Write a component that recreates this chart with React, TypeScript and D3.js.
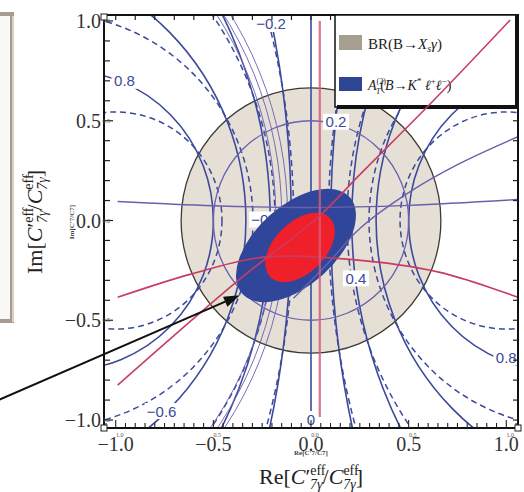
import React from 'react';
import * as d3 from 'd3';

// plot frame in page pixels
const W = 524;
const H = 492;
const frame = { left: 104, right: 518, top: 15, bottom: 428 };

// data ranges covered by the frame
const xDomain = [-1.06, 1.06];
const yDomain = [-1.04, 1.03];

const tickValues = [-1, -0.5, 0, 0.5, 1];
const tickLabels = ['−1.0', '−0.5', '0.0', '0.5', '1.0'];
const tinyTickLabels = ['1.0', '0.5', '0.0', '0.5', '1.0'];

// A_T^(2) contour levels (solid = one q² setting, dashed = the other)
const solidLevels = [-0.8, -0.6, -0.4, -0.2, 0, 0.2, 0.4, 0.6, 0.8];
const dashedLevels = [-0.8, -0.6, -0.4, -0.2, 0.2, 0.4, 0.6, 0.8];
const dashedNorm = 0.8;
const dashedShift = 0.704;

const contourLabels = [
  { t: '0.8', x: -0.955, y: 0.7 },
  { t: '−0.2', x: -0.205, y: 0.985 },
  { t: '0.2', x: 0.128, y: 0.495 },
  { t: '−0.4', x: -0.23, y: 0.005 },
  { t: '0.4', x: 0.23, y: -0.29 },
  { t: '−0.6', x: -0.765, y: -0.955 },
  { t: '0', x: 0, y: -0.995 },
  { t: '0.8', x: 1.0, y: -0.685 },
];

// BR(B -> Xs gamma) allowed disk
const brDisk = { cx: 0, cy: 0, r: 0.665 };
// A_T^(2) allowed region and the combined (red) region
const atRegion = { cx: -0.077, cy: -0.125, a: 0.37, b: 0.2, angle: 42 };
const coreRegion = { cx: -0.056, cy: -0.135, a: 0.215, b: 0.128, angle: 45 };

// purple (second overlay) curves
const purpleFlat: [number, number][] = [[-0.99, 0.095], [-0.5, 0.074], [0, 0.065], [0.5, 0.076], [1.06, 0.105]];
const purpleSlant: [number, number][] = [[-0.09, -0.39], [0.1, -0.2], [0.25, -0.04], [0.5, 0.14], [0.75, 0.28], [1.06, 0.42]];
const purpleRing = 0.5;
const purpleArcCenter = [-2.02, 0.02];
const purpleArcRadii = [1.84, 1.87, 1.9];

// red constraint lines
const redVertical: [number, number][] = [[0.045, 1.0], [0.045, -0.985]];
const redDiagonal: [number, number][] = [[-0.99, -0.825], [-0.36, -0.29], [0.04, 0.02], [0.25, 0.23], [0.626, 0.6], [1.02, 1.005]];
const redArch: [number, number][] = [[-0.99, -0.385], [-0.62, -0.27], [-0.25, -0.185], [0.2, -0.195], [0.66, -0.26], [1.06, -0.385]];

// annotation arrow (data coords)
const arrowFrom = [-1.6, -0.9];
const arrowTo = [-0.364, -0.375];

const BLUE = '#3b4a9c';
const PURPLE = '#6a5fae';
const RED = '#c93c62';
const SERIF = '"Liberation Serif", "DejaVu Serif", serif';
const SANS = '"Liberation Sans", Arial, sans-serif';

const xs = d3.scaleLinear().domain(xDomain).range([frame.left, frame.right]);
const ys = d3.scaleLinear().domain(yDomain).range([frame.bottom, frame.top]);
const line = d3
  .line<[number, number]>()
  .x((d) => xs(d[0]))
  .y((d) => ys(d[1]))
  .curve(d3.curveCatmullRom);

const circle = (cx: number, cy: number, r: number, props: any, key: any) => (
  <ellipse
    key={key}
    cx={xs(cx)}
    cy={ys(cy)}
    rx={Math.abs(xs(r) - xs(0))}
    ry={Math.abs(ys(0) - ys(r))}
    fill="none"
    {...props}
  />
);

const levelCircle = (c: number, norm: number, shift: number) => {
  const a = norm / c;
  return { cx: a, r: Math.sqrt(a * a - shift) };
};

const Label = ({ main, sub, size, italicFirst }: any) => null;

const AxisTitle = ({ prefix }: { prefix: string }) => (
  <>
    {prefix}[
    <tspan fontStyle="italic">C</tspan>′
    <tspan fontSize={14} dy={-9}>eff</tspan>
    <tspan fontSize={14} dx={-15.5} dy={14} fontStyle="italic">7γ</tspan>
    <tspan dy={-5}>/</tspan>
    <tspan fontStyle="italic">C</tspan>
    <tspan fontSize={14} dy={-9}>eff</tspan>
    <tspan fontSize={14} dx={-15.5} dy={14} fontStyle="italic">7γ</tspan>
    <tspan dy={-5}>]</tspan>
  </>
);

export default function App() {
  const yTicks = d3.range(-10, 11).map((i) => i / 10);
  const xTopTicks = d3.range(-10, 11).map((i) => i / 10);
  const xBottomTicks = d3.range(-21, 22).map((i) => i / 20);

  const ellipse = (e: any, fill: string) => (
    <ellipse
      cx={xs(e.cx)}
      cy={ys(e.cy)}
      rx={xs(e.a) - xs(0)}
      ry={ys(0) - ys(e.b)}
      fill={fill}
      transform={`rotate(${-e.angle} ${xs(e.cx)} ${ys(e.cy)})`}
    />
  );

  const [ax, ay] = [xs(arrowFrom[0]), ys(arrowFrom[1])];
  const [bx, by] = [xs(arrowTo[0]), ys(arrowTo[1])];
  const ang = Math.atan2(by - ay, bx - ax);
  const headLen = 16;
  const headW = 5.5;
  const hx = bx - headLen * Math.cos(ang);
  const hy = by - headLen * Math.sin(ang);
  const head = [
    [bx, by],
    [hx - headW * Math.sin(ang), hy + headW * Math.cos(ang)],
    [hx + headW * Math.sin(ang), hy - headW * Math.cos(ang)],
  ];

  return (
    <svg
      width={W}
      height={H}
      style={{ position: 'fixed', left: 0, top: 0, background: '#fff' }}
      fontFamily={SERIF}
    >
      <defs>
        <clipPath id="plot">
          <rect x={frame.left} y={frame.top} width={frame.right - frame.left} height={frame.bottom - frame.top} />
        </clipPath>
      </defs>

      {/* remnant of neighbouring panel */}
      <rect x={-12} y={14} width={24} height={307} fill="#faf8f5" stroke="#a69b8d" strokeWidth={4} />
      <line x1={13} y1={16} x2={13} y2={322} stroke="#d8d0c6" strokeWidth={2} />

      <g clipPath="url(#plot)">
        {circle(brDisk.cx, brDisk.cy, brDisk.r, { fill: '#e5dfd5', stroke: '#3d3a33', strokeWidth: 1.3 }, 'disk')}

        {solidLevels.map((c, i) =>
          c === 0 ? (
            <line key={'s' + i} x1={xs(0)} x2={xs(0)} y1={frame.top} y2={frame.bottom} stroke={BLUE} strokeWidth={1.6} />
          ) : (
            (() => {
              const k = levelCircle(c, 1, 1);
              return circle(k.cx, 0, k.r, { stroke: BLUE, strokeWidth: 1.6 }, 's' + i);
            })()
          )
        )}
        {dashedLevels.map((c, i) => {
          const k = levelCircle(c, dashedNorm, dashedShift);
          return circle(k.cx, 0, k.r, { stroke: BLUE, strokeWidth: 1.5, strokeDasharray: '6 4' }, 'd' + i);
        })}

        {purpleArcRadii.map((r, i) =>
          circle(purpleArcCenter[0], purpleArcCenter[1], r, { stroke: PURPLE, strokeWidth: 1, opacity: 0.9 }, 'pa' + i)
        )}
        {circle(0, 0, purpleRing, { stroke: PURPLE, strokeWidth: 1.3 }, 'ring')}

        {contourLabels.map((l, i) => {
          const w = l.t.length * 8 + 2;
          return (
            <g key={'l' + i}>
              <rect x={xs(l.x) - w / 2} y={ys(l.y) - 8} width={w} height={16} fill="#fff" />
              <text x={xs(l.x)} y={ys(l.y) + 5.5} textAnchor="middle" fontSize={15} fontFamily={SANS} fill={BLUE}>
                {l.t}
              </text>
            </g>
          );
        })}

        {ellipse(atRegion, '#30469a')}
        {ellipse(coreRegion, '#f0202a')}

        <path d={line(purpleFlat) || ''} fill="none" stroke={PURPLE} strokeWidth={1.4} />
        <path d={line(purpleSlant) || ''} fill="none" stroke={PURPLE} strokeWidth={1.4} />

        <path d={line(redArch) || ''} fill="none" stroke={RED} strokeWidth={1.6} />
        <path d={line(redVertical) || ''} fill="none" stroke="#d25d7a" strokeWidth={2.2} opacity={0.85} />
      </g>

      {/* frame */}
      <rect
        x={frame.left}
        y={frame.top}
        width={frame.right - frame.left}
        height={frame.bottom - frame.top}
        fill="none"
        stroke="#111"
        strokeWidth={2}
      />
      {yTicks.map((v, i) => {
        const major = Math.abs(v * 2 - Math.round(v * 2)) < 1e-6;
        const len = major ? 9 : 6;
        return (
          <g key={'yt' + i} stroke="#222" strokeWidth={1.2}>
            <line x1={frame.left} x2={frame.left + len} y1={ys(v)} y2={ys(v)} />
            <line x1={frame.right} x2={frame.right - 5} y1={ys(v)} y2={ys(v)} />
          </g>
        );
      })}
      {xTopTicks.map((v, i) => (
        <line key={'xt' + i} x1={xs(v)} x2={xs(v)} y1={frame.top} y2={frame.top + 5} stroke="#222" strokeWidth={1.2} />
      ))}
      {xBottomTicks.map((v, i) => {
        const major = Math.abs(v * 2 - Math.round(v * 2)) < 1e-6;
        return (
          <line
            key={'xb' + i}
            x1={xs(v)}
            x2={xs(v)}
            y1={frame.bottom}
            y2={frame.bottom - (major ? 8 : 5)}
            stroke="#222"
            strokeWidth={1.1}
          />
        );
      })}
      {[
        [frame.left, frame.bottom],
        [frame.right, frame.bottom],
        [frame.left, frame.top + 2],
      ].map(([x, y], i) => (
        <rect key={'sq' + i} x={x - 3} y={y - 3} width={6} height={6} fill="#fff" stroke="#222" strokeWidth={1} />
      ))}

      {tickValues.map((v, i) => (
        <g key={'tl' + i}>
          <text x={101} y={ys(v) + 7} textAnchor="end" fontSize={20} fill="#333">
            {tickLabels[i]}
          </text>
          <text x={110} y={ys(v) + 2} textAnchor="end" fontSize={6} fill="#555">
            {tinyTickLabels[i]}
          </text>
          <text x={xs(v)} y={451} textAnchor="middle" fontSize={20} fill="#333">
            {tickLabels[i]}
          </text>
          <text x={xs(v) + 4} y={437} textAnchor="middle" fontSize={6} fill="#555">
            {tinyTickLabels[i]}
          </text>
        </g>
      ))}

      {/* legend */}
      <rect x={335} y={frame.top} width={181} height={92} fill="#fff" stroke="#111" strokeWidth={1.5} />
      <path d={`M337,107 H517 V16`} fill="none" stroke="#111" strokeWidth={4} />
      <rect x={339} y={35} width={23} height={15} fill="#a79e92" />
      <rect x={339} y={77} width={23} height={14} fill="#2d4592" />
      <text x={368} y={49} fontSize={15} fill="#222">
        BR(B→<tspan fontStyle="italic">X</tspan>
        <tspan fontSize={10} dy={3} fontStyle="italic">s</tspan>
        <tspan dy={-3} fontStyle="italic">γ</tspan>)
      </text>
      <text x={368} y={90} fontSize={14} fill="#222">
        <tspan fontStyle="italic">A</tspan>
        <tspan fontSize={8} dy={-6}>(2)</tspan>
        <tspan fontSize={8} dx={-10} dy={10} fontStyle="italic">T</tspan>
        <tspan dy={-4}>(</tspan>
        <tspan fontStyle="italic">B</tspan>→<tspan fontStyle="italic">K</tspan>
        <tspan fontSize={9} dy={-6}>*</tspan>
        <tspan dy={6} fontStyle="italic"> ℓ</tspan>
        <tspan fontSize={9} dy={-6}>+</tspan>
        <tspan dy={6} fontStyle="italic">ℓ</tspan>
        <tspan fontSize={9} dy={-6}>−</tspan>
        <tspan dy={6}>)</tspan>
      </text>

      <g clipPath="url(#plot)">
        <path d={line(redDiagonal) || ''} fill="none" stroke={RED} strokeWidth={1.6} />
      </g>

      {/* arrow */}
      <line x1={ax} y1={ay} x2={hx} y2={hy} stroke="#111" strokeWidth={2} />
      <polygon points={head.map((p) => p.join(',')).join(' ')} fill="#111" />

      {/* axis titles */}
      <text x={311} y={484} textAnchor="middle" fontSize={22} fill="#222">
        <AxisTitle prefix="Re" />
      </text>
      <text transform="translate(42,222) rotate(-90)" textAnchor="middle" fontSize={22} fill="#222">
        <AxisTitle prefix="Im" />
      </text>
      <text x={311} y={455} textAnchor="middle" fontSize={7} fontWeight="bold" fill="#444">
        Re[C′7/C7]
      </text>
      <text transform="translate(74,222) rotate(-90)" textAnchor="middle" fontSize={7} fontWeight="bold" fill="#444">
        Im[C′7/C7]
      </text>
    </svg>
  );
}
